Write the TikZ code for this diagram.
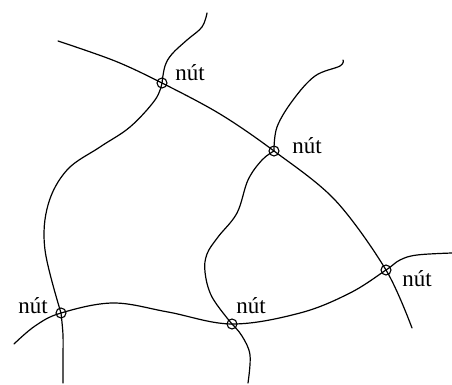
\documentclass[tikz,border=0pt]{standalone}
\usepackage{fontspec}
\setmainfont{Liberation Serif}
\begin{document}
\begin{tikzpicture}[x=1pt,y=-1pt,
  junc/.style={circle,draw,line width=1.1pt,inner sep=0pt,minimum size=10pt},
  lbl/.style={anchor=base,font=\fontsize{23}{25}\selectfont,inner sep=0pt},
  curve/.style={line width=1.2pt,line cap=round}]
\useasboundingbox (0,0) rectangle (452,385);
\node[junc] (A) at (162,83) {};
\node[junc] (B) at (274,151) {};
\node[junc] (C) at (386,270) {};
\node[junc] (D) at (232,324) {};
\node[junc] (E) at (61,313) {};
\node[lbl] (lA) at (190,81) {nút};
\node[lbl] (lB) at (307,153) {nút};
\node[lbl] (lC) at (417,286) {nút};
\node[lbl] (lD) at (251,313) {nút};
\node[lbl] (lE) at (33,313) {nút};
\coordinate (a1) at (58,41);
\coordinate (a2) at (412,328);
\coordinate (t1) at (207,13);
\coordinate (t2) at (343,60);
\coordinate (b1) at (14,344);
\coordinate (b2) at (452,253);
\coordinate (e1) at (63,383);
\coordinate (d1) at (248,383);
\draw[curve] plot[smooth,tension=0.55] coordinates {(a1) (115,61) (A.center) (220,114) (B.center) (335,200) (C.center) (a2)};
\draw[curve] plot[smooth,tension=0.6] coordinates {(A.center) (165,66) (172,54) (187,40) (202,27) (t1)};
\draw[curve] plot[smooth,tension=0.6] coordinates {(A.center) (155,100) (130,127) (100,147) (67,170) (48,205) (45,250) (E.center)};
\draw[curve] plot[smooth,tension=0.6] coordinates {(E.center) (63,335) (63,358) (e1)};
\draw[curve] plot[smooth,tension=0.6] coordinates {(b1) (35,326) (E.center) (113,303) (168,312) (D.center) (300,313) (350,293) (C.center) (400,260) (417,255) (b2)};
\draw[curve] plot[smooth,tension=0.6] coordinates {(D.center) (242,336) (250,355) (d1)};
\draw[curve] plot[smooth,tension=0.6] coordinates {(B.center) (277,127) (293,100) (315,76) (340,66) (t2)};
\draw[curve] plot[smooth,tension=0.6] coordinates {(B.center) (262,160) (248,180) (237,213) (218,237) (207,254) (205,272) (212,297) (D.center)};
\end{tikzpicture}
\end{document}
